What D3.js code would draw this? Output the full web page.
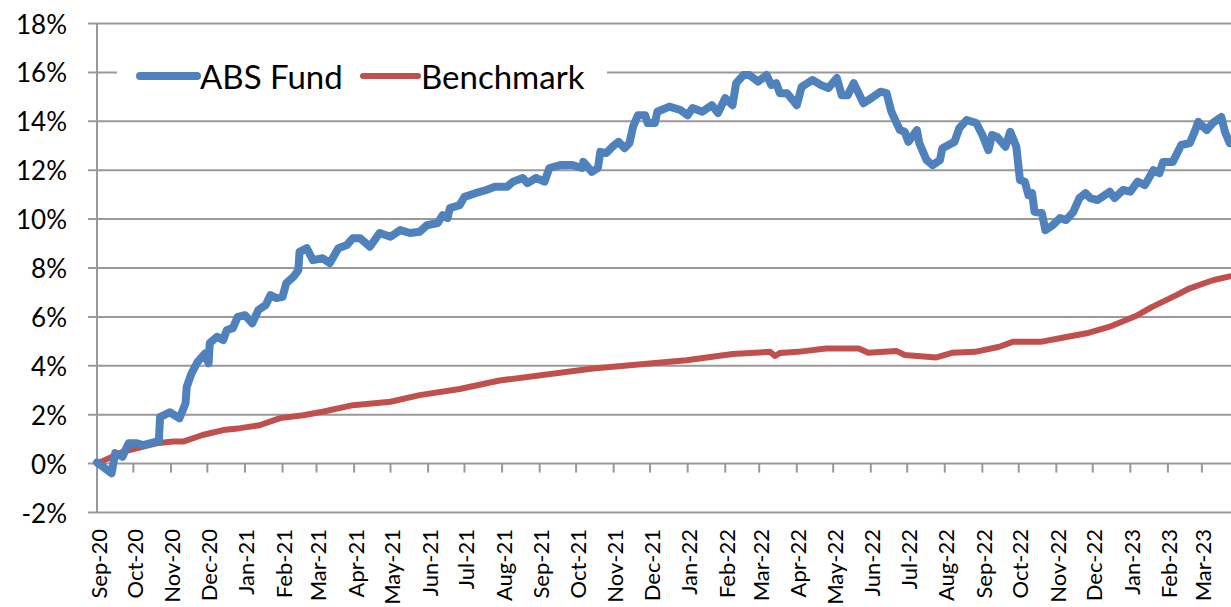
<!DOCTYPE html>
<html>
<head>
<meta charset="utf-8">
<script src="https://cdn.jsdelivr.net/npm/d3@7"></script>
<style>
  body { margin: 0; background: #fff; }
  svg { display: block; font-family: Lato, "Open Sans", sans-serif; }
</style>
</head>
<body>
<svg id="chart" width="1231" height="607"></svg>
<script>
// ABS Fund cumulative return (%)
const fundSeries = [
  ["2020-09-01", 0.05], ["2020-09-13", -0.40], ["2020-09-16", 0.43], ["2020-09-22", 0.28],
  ["2020-09-27", 0.83], ["2020-10-04", 0.83], ["2020-10-09", 0.76], ["2020-10-20", 0.90],
  ["2020-10-22", 0.92], ["2020-10-23", 1.90], ["2020-10-31", 2.10], ["2020-11-08", 1.85],
  ["2020-11-13", 2.47], ["2020-11-14", 3.14], ["2020-11-18", 3.70], ["2020-11-23", 4.16],
  ["2020-11-29", 4.50], ["2020-12-02", 4.10], ["2020-12-03", 4.93], ["2020-12-09", 5.19],
  ["2020-12-14", 5.05], ["2020-12-17", 5.46], ["2020-12-22", 5.54], ["2020-12-26", 6.00],
  ["2021-01-01", 6.07], ["2021-01-07", 5.74], ["2021-01-12", 6.28], ["2021-01-18", 6.48],
  ["2021-01-22", 6.89], ["2021-01-27", 6.77], ["2021-02-01", 6.82], ["2021-02-04", 7.38],
  ["2021-02-10", 7.64], ["2021-02-14", 7.91], ["2021-02-15", 8.66], ["2021-02-21", 8.81],
  ["2021-02-26", 8.32], ["2021-03-06", 8.40], ["2021-03-12", 8.20], ["2021-03-19", 8.81],
  ["2021-03-26", 8.94], ["2021-03-31", 9.22], ["2021-04-06", 9.22], ["2021-04-14", 8.87],
  ["2021-04-22", 9.43], ["2021-05-01", 9.28], ["2021-05-09", 9.55], ["2021-05-17", 9.43],
  ["2021-05-25", 9.48], ["2021-05-31", 9.75], ["2021-06-09", 9.84], ["2021-06-13", 10.16],
  ["2021-06-17", 10.04], ["2021-06-19", 10.45], ["2021-06-27", 10.57], ["2021-07-01", 10.91],
  ["2021-07-10", 11.06], ["2021-07-19", 11.19], ["2021-07-26", 11.32], ["2021-08-05", 11.32],
  ["2021-08-10", 11.53], ["2021-08-18", 11.68], ["2021-08-22", 11.47], ["2021-08-29", 11.68],
  ["2021-09-05", 11.53], ["2021-09-09", 12.09], ["2021-09-18", 12.21], ["2021-09-28", 12.21],
  ["2021-10-06", 12.09], ["2021-10-07", 12.34], ["2021-10-14", 11.93], ["2021-10-19", 12.09],
  ["2021-10-21", 12.75], ["2021-10-26", 12.70], ["2021-10-31", 12.96], ["2021-11-05", 13.16],
  ["2021-11-10", 12.90], ["2021-11-14", 13.11], ["2021-11-17", 13.78], ["2021-11-21", 14.25],
  ["2021-11-27", 14.25], ["2021-11-29", 13.93], ["2021-12-05", 13.93], ["2021-12-07", 14.39],
  ["2021-12-17", 14.60], ["2021-12-26", 14.46], ["2022-01-01", 14.25], ["2022-01-05", 14.54],
  ["2022-01-13", 14.39], ["2022-01-21", 14.66], ["2022-01-26", 14.34], ["2022-02-01", 14.95],
  ["2022-02-07", 14.66], ["2022-02-10", 15.56], ["2022-02-16", 15.89], ["2022-02-21", 15.89],
  ["2022-02-28", 15.62], ["2022-03-07", 15.89], ["2022-03-11", 15.48], ["2022-03-15", 15.56],
  ["2022-03-18", 15.15], ["2022-03-24", 15.15], ["2022-04-01", 14.66], ["2022-04-05", 15.41],
  ["2022-04-14", 15.69], ["2022-04-21", 15.48], ["2022-04-27", 15.36], ["2022-05-04", 15.77],
  ["2022-05-08", 15.07], ["2022-05-13", 15.07], ["2022-05-18", 15.56], ["2022-05-26", 14.74],
  ["2022-06-03", 15.00], ["2022-06-09", 15.21], ["2022-06-14", 15.15], ["2022-06-18", 14.39],
  ["2022-06-25", 13.64], ["2022-06-29", 13.57], ["2022-07-02", 13.16], ["2022-07-09", 13.64],
  ["2022-07-11", 13.11], ["2022-07-17", 12.41], ["2022-07-22", 12.21], ["2022-07-28", 12.41],
  ["2022-07-30", 12.90], ["2022-08-09", 13.16], ["2022-08-13", 13.72], ["2022-08-19", 14.05],
  ["2022-08-27", 13.93], ["2022-09-01", 13.44], ["2022-09-06", 12.82], ["2022-09-09", 13.44],
  ["2022-09-13", 13.37], ["2022-09-20", 12.96], ["2022-09-24", 13.57], ["2022-09-29", 12.96],
  ["2022-10-02", 11.60], ["2022-10-06", 11.53], ["2022-10-09", 10.98], ["2022-10-12", 11.06],
  ["2022-10-14", 10.30], ["2022-10-20", 10.25], ["2022-10-23", 9.55], ["2022-10-29", 9.75],
  ["2022-11-04", 10.04], ["2022-11-09", 9.96], ["2022-11-15", 10.30], ["2022-11-20", 10.86],
  ["2022-11-25", 11.06], ["2022-11-29", 10.86], ["2022-12-05", 10.78], ["2022-12-11", 10.98],
  ["2022-12-15", 11.12], ["2022-12-19", 10.86], ["2022-12-26", 11.19], ["2023-01-01", 11.12],
  ["2023-01-07", 11.53], ["2023-01-13", 11.39], ["2023-01-20", 12.00], ["2023-01-25", 11.88],
  ["2023-01-28", 12.34], ["2023-02-05", 12.34], ["2023-02-12", 13.03], ["2023-02-19", 13.11],
  ["2023-02-23", 13.57], ["2023-02-26", 13.98], ["2023-03-05", 13.64], ["2023-03-10", 13.93],
  ["2023-03-17", 14.18], ["2023-03-20", 13.57], ["2023-03-24", 13.11]
];

// Benchmark cumulative return (%)
const benchSeries = [
  ["2020-09-01", 0.00], ["2020-09-22", 0.48], ["2020-10-20", 0.83], ["2020-11-03", 0.90],
  ["2020-11-11", 0.90], ["2020-11-27", 1.17], ["2020-12-14", 1.37], ["2020-12-28", 1.45],
  ["2021-01-13", 1.57], ["2021-01-30", 1.86], ["2021-02-18", 1.98], ["2021-03-06", 2.12],
  ["2021-03-31", 2.39], ["2021-05-01", 2.53], ["2021-05-25", 2.80], ["2021-06-27", 3.05],
  ["2021-07-30", 3.40], ["2021-10-15", 3.89], ["2021-12-31", 4.23], ["2022-02-07", 4.48],
  ["2022-03-10", 4.57], ["2022-03-14", 4.40], ["2022-03-18", 4.52], ["2022-04-02", 4.57],
  ["2022-04-25", 4.71], ["2022-05-22", 4.71], ["2022-05-30", 4.53], ["2022-06-22", 4.61],
  ["2022-06-29", 4.44], ["2022-07-25", 4.34], ["2022-08-07", 4.53], ["2022-08-26", 4.57],
  ["2022-09-15", 4.78], ["2022-09-26", 4.98], ["2022-10-19", 4.98], ["2022-11-07", 5.16],
  ["2022-11-26", 5.33], ["2022-12-15", 5.60], ["2023-01-07", 6.07], ["2023-01-19", 6.41],
  ["2023-02-08", 6.89], ["2023-02-19", 7.17], ["2023-03-10", 7.50], ["2023-03-24", 7.66]
];

const yTicks = [-2, 0, 2, 4, 6, 8, 10, 12, 14, 16, 18];
const seriesNames = ["ABS Fund", "Benchmark"];
const seriesColors = ["#4f81bd", "#c0504d"];

const parse = d3.utcParse("%Y-%m-%d");
const fund = fundSeries.map(d => ({ date: parse(d[0]), value: d[1] }));
const bench = benchSeries.map(d => ({ date: parse(d[0]), value: d[1] }));

const svg = d3.select("#chart");
const plotLeft = 97, plotRight = 1231, plotTop = 23.5, plotBottom = 512.5;

const x = d3.scaleUtc()
    .domain([parse("2020-09-01"), parse("2023-03-25")])
    .range([plotLeft, plotRight]);
const y = d3.scaleLinear()
    .domain([-2, 18])
    .range([plotBottom, plotTop]);

const gridColor = "#999999";

// gridlines + y axis ticks
svg.append("g")
    .selectAll("line")
    .data(yTicks)
    .join("line")
    .attr("x1", plotLeft - 9)
    .attr("x2", plotRight)
    .attr("y1", d => y(d))
    .attr("y2", d => y(d))
    .attr("stroke", gridColor)
    .attr("stroke-width", 2);

// y axis line
svg.append("line")
    .attr("x1", plotLeft).attr("x2", plotLeft)
    .attr("y1", plotTop).attr("y2", plotBottom)
    .attr("stroke", gridColor)
    .attr("stroke-width", 2);

// y labels
svg.append("g")
    .selectAll("text")
    .data(yTicks)
    .join("text")
    .attr("x", 67)
    .attr("y", d => y(d))
    .attr("text-anchor", "end")
    .attr("dominant-baseline", "central")
    .style("font-size", "26px")
    .text(d => d + "%");

// x axis crosses at 0%
const months = d3.utcMonth.range(parse("2020-09-01"), parse("2023-03-25"));
const fmt = d3.utcFormat("%b-%y");

svg.append("g")
    .selectAll("line")
    .data(months)
    .join("line")
    .attr("x1", d => x(d))
    .attr("x2", d => x(d))
    .attr("y1", y(0))
    .attr("y2", y(0) + 9)
    .attr("stroke", gridColor)
    .attr("stroke-width", 2);

svg.append("g")
    .selectAll("text")
    .data(months)
    .join("text")
    .attr("transform", d => `translate(${x(d) + 1},529) rotate(-90)`)
    .attr("text-anchor", "end")
    .attr("dominant-baseline", "central")
    .style("font-size", "22px")
    .text(d => fmt(d));

// lines
const line = d3.line()
    .x(d => x(d.date))
    .y(d => y(d.value));

svg.append("path")
    .datum(bench)
    .attr("d", line)
    .attr("fill", "none")
    .attr("stroke", seriesColors[1])
    .attr("stroke-width", 6)
    .attr("stroke-linejoin", "round")
    .attr("stroke-linecap", "round");

svg.append("path")
    .datum(fund)
    .attr("d", line)
    .attr("fill", "none")
    .attr("stroke", seriesColors[0])
    .attr("stroke-width", 8)
    .attr("stroke-linejoin", "round")
    .attr("stroke-linecap", "round");

// legend
const legend = svg.append("g");
legend.append("rect")
    .attr("x", 117).attr("y", 55)
    .attr("width", 490).attr("height", 42)
    .attr("fill", "#fff");

const legendItems = [
    { name: seriesNames[0], color: seriesColors[0], x1: 140, x2: 197, w: 8 },
    { name: seriesNames[1], color: seriesColors[1], x1: 363, x2: 418, w: 6 }
];

legend.selectAll("line")
    .data(legendItems)
    .join("line")
    .attr("x1", d => d.x1)
    .attr("x2", d => d.x2)
    .attr("y1", 76).attr("y2", 76)
    .attr("stroke", d => d.color)
    .attr("stroke-width", d => d.w)
    .attr("stroke-linecap", "round");

legend.selectAll("text")
    .data(legendItems)
    .join("text")
    .attr("x", d => d.x2 + 3)
    .attr("y", 76)
    .attr("dominant-baseline", "central")
    .style("font-size", "33px")
    .text(d => d.name);
</script>
</body>
</html>
